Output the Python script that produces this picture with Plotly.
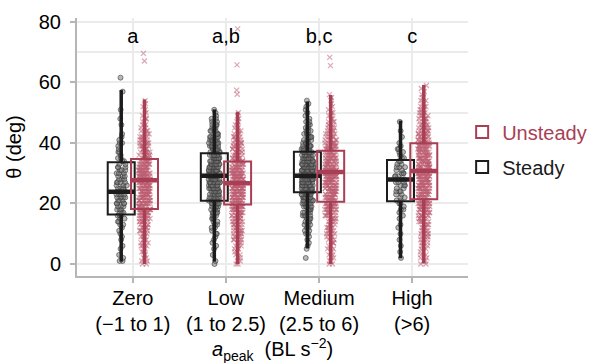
import numpy as np
import plotly.graph_objects as go

# ---------------- data ----------------
categories = ["Zero<br>(−1 to 1)", "Low<br>(1 to 2.5)", "Medium<br>(2.5 to 6)", "High<br>(>6)"]
letters = ["a", "a,b", "b,c", "c"]
letter_y = [74.7, 74.7, 74.7, 74.7]

steady_q1 = [16.4, 20.9, 23.7, 20.7]
steady_median = [23.9, 29.2, 29.2, 27.9]
steady_q3 = [33.6, 36.6, 37.1, 34.4]
steady_lower = [0.8, 0.8, 5.2, 1.9]
steady_upper = [57.5, 51.1, 53.7, 47.4]

unsteady_q1 = [18.2, 19.7, 20.6, 21.4]
unsteady_median = [27.7, 26.7, 30.4, 30.7]
unsteady_q3 = [34.7, 33.9, 37.4, 39.9]
unsteady_lower = [0.0, 0.0, 0.0, 0.2]
unsteady_upper = [54.4, 50.3, 55.9, 59.2]

# observation counts per 1-degree value (index = degrees), read from the point clouds
steady_zero_counts = [0, 2, 1, 1, 0, 1, 1, 0, 1, 1, 1, 1, 1, 2, 2, 2, 3, 3, 3, 3,
                      4, 3, 4, 4, 4, 4, 3, 4, 3, 3, 3, 3, 3, 2, 2, 2, 1, 2, 1, 1,
                      2, 1, 1, 1, 0, 0, 1, 0, 1, 0, 0, 1, 0, 0, 0, 0, 0, 1]
steady_zero_outliers = [61.6]
steady_low_counts = [1, 1, 0, 1, 0, 1, 1, 1, 1, 1, 2, 1, 2, 2, 2, 3, 3, 4, 4, 5,
                     6, 6, 7, 7, 8, 8, 8, 9, 9, 9, 9, 9, 9, 8, 8, 8, 7, 7, 7, 6,
                     6, 5, 5, 4, 4, 3, 3, 2, 2, 1, 1, 1]
steady_low_outliers = []
steady_medium_counts = [0, 0, 1, 0, 0, 1, 1, 1, 1, 1, 2, 2, 2, 3, 3, 3, 4, 4, 5, 5,
                        6, 7, 8, 9, 10, 11, 12, 12, 13, 13, 13, 12, 12, 11, 10, 9, 8, 7, 6, 6,
                        5, 4, 4, 3, 3, 2, 2, 2, 1, 1, 1, 1, 1, 1, 1]
steady_medium_outliers = []
steady_high_counts = [0, 0, 1, 0, 1, 0, 1, 0, 1, 0, 1, 0, 1, 1, 0, 1, 1, 1, 2, 1,
                      2, 2, 2, 2, 3, 2, 3, 3, 3, 3, 3, 2, 3, 2, 2, 2, 1, 2, 2, 1,
                      1, 0, 1, 0, 1, 0, 0, 1]
steady_high_outliers = []

unsteady_zero_counts = [2, 2, 2, 2, 2, 2, 3, 3, 3, 3, 4, 4, 5, 5, 6, 6, 7, 8, 9, 9,
                        10, 10, 11, 11, 12, 12, 12, 12, 12, 12, 11, 11, 10, 10, 9, 8, 7, 7, 6, 6,
                        5, 5, 4, 4, 3, 3, 2, 2, 2, 1, 1, 1, 1, 1, 1]
unsteady_zero_outliers = [67.1, 69.6]
unsteady_low_counts = [2, 2, 2, 2, 2, 3, 3, 3, 4, 4, 5, 5, 5, 6, 6, 7, 8, 8, 9, 10,
                       10, 11, 11, 12, 12, 12, 12, 12, 12, 11, 11, 10, 10, 9, 8, 8, 7, 6, 6, 5,
                       5, 4, 4, 3, 3, 2, 2, 2, 1, 1, 1]
unsteady_low_outliers = [56.1, 57.5, 65.8, 77.7]
unsteady_medium_counts = [2, 2, 2, 2, 2, 2, 3, 3, 3, 3, 4, 4, 4, 5, 5, 6, 6, 7, 8, 8,
                          9, 9, 10, 10, 11, 11, 11, 12, 12, 12, 12, 12, 11, 11, 10, 10, 9, 8, 8, 7,
                          6, 6, 5, 5, 4, 4, 3, 3, 2, 2, 2, 1, 1, 1, 1, 1, 1]
unsteady_medium_outliers = [65.6, 68.3]
unsteady_high_counts = [2, 2, 2, 2, 2, 2, 3, 3, 3, 3, 4, 4, 4, 5, 5, 6, 6, 7, 7, 8,
                        9, 9, 10, 10, 11, 11, 12, 12, 12, 12, 12, 12, 12, 11, 11, 11, 10, 10, 9, 9,
                        8, 8, 7, 7, 6, 6, 5, 5, 4, 4, 3, 3, 3, 2, 2, 2, 1, 1, 1, 1]
unsteady_high_outliers = []

x_title = "<i>a</i><sub>peak</sub>  (BL s<sup>−2</sup>)"
y_title = "θ (deg)"

# ---------------- styling ----------------
FONT = "Liberation Sans, Arial, sans-serif"
FS = 20
RED = "#a93f55"
BLACK = "#1c1c1c"
GRID = "#ebebeb"
AXIS = "#b5b5b5"
OFF = 0.125      # dodge offset (category units)
BOXW = 0.29      # box width (category units)


def expand(counts, outliers):
    vals = np.repeat(np.arange(len(counts), dtype=float), counts)
    return np.concatenate([vals, np.asarray(outliers, dtype=float)])


series = [
    dict(name="Unsteady", axis="x3", color=RED,
         counts=[unsteady_zero_counts, unsteady_low_counts, unsteady_medium_counts, unsteady_high_counts],
         outliers=[unsteady_zero_outliers, unsteady_low_outliers, unsteady_medium_outliers, unsteady_high_outliers],
         q1=unsteady_q1, med=unsteady_median, q3=unsteady_q3, lo=unsteady_lower, hi=unsteady_upper,
         marker=dict(symbol="x-thin", size=5, color="rgba(190,95,115,0.55)",
                     line=dict(width=1.2, color="rgba(190,95,115,0.55)")),
         rank=1),
    dict(name="Steady", axis="x2", color=BLACK,
         counts=[steady_zero_counts, steady_low_counts, steady_medium_counts, steady_high_counts],
         outliers=[steady_zero_outliers, steady_low_outliers, steady_medium_outliers, steady_high_outliers],
         q1=steady_q1, med=steady_median, q3=steady_q3, lo=steady_lower, hi=steady_upper,
         marker=dict(symbol="circle", size=5, color="rgba(115,115,115,0.5)",
                     line=dict(width=1, color="rgba(60,60,60,0.6)")),
         rank=2),
]

fig = go.Figure()

for s in series:
    xs, ys = [], []
    for cat, cnt, outl in zip(categories, s["counts"], s["outliers"]):
        v = expand(cnt, outl)
        xs += [cat] * len(v)
        ys += list(v)
    # jittered observations
    fig.add_trace(go.Box(
        x=xs, y=ys, xaxis=s["axis"], yaxis="y", boxpoints="all", jitter=0.44, pointpos=0,
        width=BOXW, line=dict(color="rgba(0,0,0,0)", width=0), fillcolor="rgba(0,0,0,0)",
        marker=s["marker"], showlegend=False, legendgroup=s["name"], hoverinfo="skip"))
    # box outline
    fig.add_trace(go.Box(
        x=categories, q1=s["q1"], median=s["med"], q3=s["q3"], lowerfence=s["q1"], upperfence=s["q3"],
        xaxis=s["axis"], yaxis="y", width=BOXW, boxpoints=False,
        line=dict(color=s["color"], width=2), fillcolor="rgba(0,0,0,0)",
        name=f'<span style="color:{s["color"]}">{s["name"]}</span>',
        legendgroup=s["name"], legendrank=s["rank"], showlegend=True))
    # thick median bar
    fig.add_trace(go.Box(
        x=categories, q1=s["med"], median=s["med"], q3=s["med"], lowerfence=s["med"], upperfence=s["med"],
        xaxis=s["axis"], yaxis="y", width=BOXW, boxpoints=False,
        line=dict(color=s["color"], width=4.5), fillcolor="rgba(0,0,0,0)",
        showlegend=False, legendgroup=s["name"], hoverinfo="skip"))
    # whiskers
    wx, wy = [], []
    for cat, q1, q3, lo, hi in zip(categories, s["q1"], s["q3"], s["lo"], s["hi"]):
        wx += [cat, cat, None, cat, cat, None]
        wy += [q1, lo, None, q3, hi, None]
    fig.add_trace(go.Scatter(
        x=wx, y=wy, xaxis=s["axis"], yaxis="y", mode="lines",
        line=dict(color=s["color"], width=3.5), showlegend=False,
        legendgroup=s["name"], hoverinfo="skip"))

# significance letters
fig.add_trace(go.Scatter(
    x=categories, y=letter_y, mode="text", text=letters, xaxis="x", yaxis="y",
    textfont=dict(size=FS, color="black", family=FONT), showlegend=False, hoverinfo="skip"))

cat_axis = dict(type="category", categoryorder="array", categoryarray=categories)
fig.update_layout(
    width=592, height=363,
    margin=dict(l=77, r=124, t=18, b=87, autoexpand=False),
    paper_bgcolor="white", plot_bgcolor="white",
    font=dict(family=FONT, size=FS, color="black"),
    boxmode="overlay",
    xaxis=dict(**cat_axis, range=[-0.6, 3.6], showgrid=True, gridcolor=GRID, gridwidth=2,
               showline=True, linecolor=AXIS, linewidth=2, ticks="outside", ticklen=5,
               tickwidth=2, tickcolor=AXIS, zeroline=False, automargin=False,
               ticklabelstandoff=-2, tickfont=dict(size=FS, color="black")),
    xaxis2=dict(**cat_axis, overlaying="x", range=[-0.6 + OFF, 3.6 + OFF], visible=False),
    xaxis3=dict(**cat_axis, overlaying="x", range=[-0.6 - OFF, 3.6 - OFF], visible=False),
    yaxis=dict(range=[-3.97, 81.32], tickvals=[0, 20, 40, 60, 80], showgrid=True,
               gridcolor=GRID, gridwidth=2, automargin=False,
               minor=dict(tick0=0, dtick=10, showgrid=True, gridcolor=GRID, gridwidth=2),
               showline=True, linecolor=AXIS, linewidth=2, ticks="outside", ticklen=5,
               tickwidth=2, tickcolor=AXIS, zeroline=False, ticklabelstandoff=5,
               tickfont=dict(size=FS, color="black"),
               title=dict(text=y_title, font=dict(size=FS), standoff=12)),
    legend=dict(x=0.985, xanchor="left", y=0.49, yanchor="middle",
                traceorder="grouped", tracegroupgap=6,
                font=dict(size=FS), bgcolor="rgba(0,0,0,0)"),
    annotations=[dict(text=x_title, xref="paper", yref="paper", x=0.5, y=-0.283,
                      xanchor="center", yanchor="middle", showarrow=False,
                      font=dict(size=FS, color="black"))],
)

fig.write_html("out.html")
